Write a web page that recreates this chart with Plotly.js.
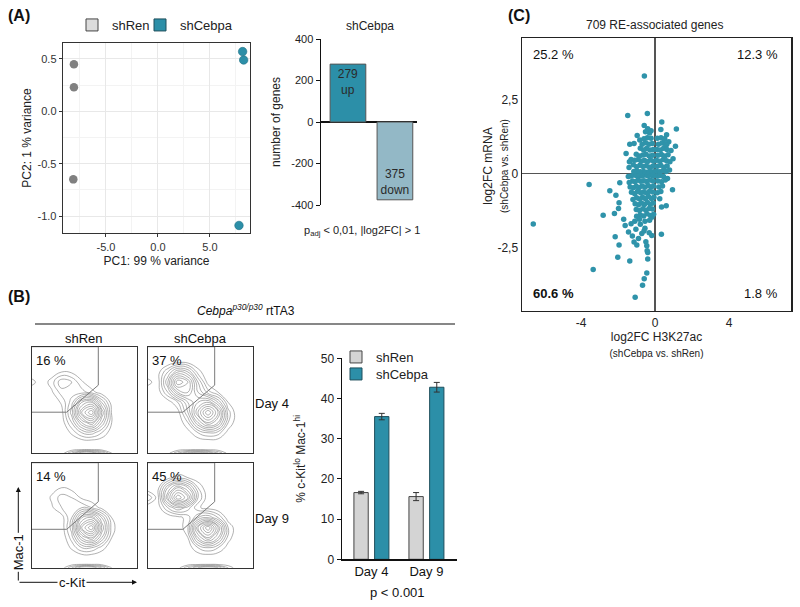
<!DOCTYPE html>
<html><head><meta charset="utf-8">
<script src="https://cdn.plot.ly/plotly-3.0.1.min.js"></script>
<style>html,body{margin:0;padding:0;background:#fff}#chart{width:800px;height:607px}</style>
</head><body><div id="chart"></div>
<script>
// ================= DATA =================
// (A) PCA
const pcaRenX = [-8.08, -8.08, -8.14];
const pcaRenY = [0.45, 0.23, -0.65];
const pcaCebX = [8.14, 8.24, 7.79];
const pcaCebY = [0.57, 0.49, -1.09];
const pcaXTicks = [-5, 0, 5];
const pcaXTickText = ['-5.0', '0.0', '5.0'];
const pcaXMinor = [-7.5, -2.5, 2.5, 7.5];
const pcaYTicks = [-1, -0.5, 0, 0.5];
const pcaYTickText = ['-1.0', '-0.5', '0.0', '0.5'];
const pcaYMinor = [-0.75, -0.25, 0.25];

// (A) differentially expressed genes
const degLabels = ['up', 'down'];
const degValues = [279, -375];
const degTicks = [-400, -200, 0, 200, 400];

// (C) RE-associated genes: log2FC H3K27ac (x) vs log2FC mRNA (y)
const reX = [
 -0.58,-1.48,-0.42,0.36,1.15,-0.59,0.31,-0.40,-0.22,1.10,0.97,-1.57,-1.37,-1.14,-0.97,-0.83,-1.30,-1.41,-1.39,0.62,0.52,0.63,0.74,0.86,
 -3.57,-2.45,-2.12,-1.91,-1.95,-1.98,-2.81,-2.20,-1.62,-1.44,-2.16,-1.23,-1.04,-0.72,-0.90,-1.14,-0.99,-1.95,-0.50,-0.32,-0.18,0.34,-0.45,-0.43,-0.40,-0.40,-2.02,-1.37,-3.35,-0.45,-0.59,-0.68,-1.08,0.35,0.60,-0.18,-6.59,-1.30,-0.80,-0.55,-1.10,0.25,-0.60,-1.70,
 0.10,0.28,0.45,0.67,0.15,0.35,0.55,0.20,0.40,0.94,0.31,0.12,
 -0.10,-0.25,-0.40,-0.55,-0.70,-0.85,-1.00,-1.15,-1.30,-1.45,
 -0.12,-0.28,-0.45,-0.60,-0.78,-0.92,-1.08,-1.22,-1.40,
 -0.08,-0.22,-0.38,-0.55,-0.70,-0.86,-1.02,-1.18,-1.35,
 -0.12,-0.30,-0.46,-0.62,-0.78,-0.95,-1.10,-1.28,
 -0.06,-0.20,-0.36,-0.52,-0.68,-0.84,-1.00,-1.20,
 -0.10,-0.26,-0.42,-0.58,-0.74,-0.90,-1.08,
 -0.15,-0.32,-0.50,-0.66,-0.84,-1.02,
 -0.08,-0.26,-0.44,-0.62,-0.80,-1.00,
 -0.30,-0.55,-0.85,
 -0.10,-0.28,-0.45,-0.62,-0.80,-0.98,-1.15,
 -0.12,-0.30,-0.48,-0.65,-0.82,-1.00,-1.18,
 -0.08,-0.25,-0.42,-0.58,-0.75,-0.92,-1.10,
 -0.14,-0.32,-0.50,-0.66,-0.84,-1.02,
 -0.10,-0.28,-0.46,-0.62,-0.80,
 -0.16,-0.34,-0.52,-0.70,
 -0.22,-0.42,-0.60,-0.30,-0.52,
 0.08,0.25,0.42,0.60,0.78,
 0.12,0.30,0.48,0.65,
 0.08,0.26,0.44,0.62,0.80,
 0.15,0.34,0.52,0.70,
 0.10,0.28,0.46,0.64,
 0.18,0.38,0.56,
 0.12,0.32,0.50
];
const reY = [
 3.31,1.97,2.04,1.75,1.51,1.63,1.50,1.52,1.45,0.93,0.50,0.68,1.00,1.02,1.29,1.14,0.48,0.21,0.40,1.32,1.18,0.99,1.08,0.78,
 -0.37,-0.58,-0.73,-0.31,-0.99,-1.18,-1.41,-1.35,-1.76,-1.98,-2.14,-2.12,-1.89,-2.03,-2.20,-2.32,-2.42,-2.42,-2.31,-2.01,-2.10,-2.06,-2.45,-2.62,-2.68,-2.90,-2.84,-2.96,-3.25,-3.37,-3.57,-3.79,-4.19,-1.13,-1.09,-1.48,-1.71,-1.70,-1.72,-1.85,-1.62,-0.85,-1.95,-1.55,
 -0.08,-0.06,-0.10,-0.17,-0.25,-0.28,-0.22,-0.45,-0.42,-0.55,-0.61,-0.65,
 -0.08,-0.05,-0.07,-0.05,-0.08,-0.06,-0.07,-0.05,-0.08,-0.10,
 -0.25,-0.22,-0.27,-0.24,-0.26,-0.22,-0.28,-0.25,-0.30,
 -0.42,-0.45,-0.40,-0.46,-0.42,-0.47,-0.43,-0.48,-0.45,
 -0.62,-0.60,-0.66,-0.62,-0.65,-0.60,-0.68,-0.63,
 -0.80,-0.84,-0.78,-0.85,-0.80,-0.86,-0.82,-0.88,
 -1.00,-1.04,-0.98,-1.05,-1.00,-1.06,-1.02,
 -1.20,-1.18,-1.24,-1.19,-1.25,-1.22,
 -1.38,-1.42,-1.36,-1.44,-1.40,-1.45,
 -1.58,-1.62,-1.55,
 0.06,0.08,0.05,0.07,0.06,0.09,0.07,
 0.25,0.22,0.27,0.24,0.28,0.23,0.30,
 0.42,0.46,0.40,0.45,0.42,0.48,0.45,
 0.62,0.60,0.66,0.63,0.60,0.66,
 0.82,0.80,0.85,0.80,0.86,
 1.02,1.00,1.05,1.00,
 1.20,1.22,1.18,1.38,1.42,
 0.08,0.06,0.10,0.07,0.12,
 0.25,0.28,0.22,0.26,
 0.45,0.42,0.48,0.44,0.40,
 0.62,0.65,0.60,0.64,
 0.82,0.80,0.86,0.82,
 1.00,1.04,1.00,
 1.20,1.22,1.16
];
const cXTicks = [-4, 0, 4];
const cXTickText = ['-4', '0', '4'];
const cYTicks = [-2.5, 0, 2.5];
const cYTickText = ['-2,5', '0', '2,5'];
const quadLabels = ['25.2 %', '12.3 %', '60.6 %', '1.8 %'];

// (B) flow cytometry density grids (c-Kit x, Mac-1 y), rows = Mac-1 from bottom
const flowX = [0, 10, 20, 30, 40, 50, 60, 70, 80, 90, 100];
const flowY = [0, 4, 10, 20, 30, 40, 50, 60, 70, 80, 90, 100];
const zRenD4 = [
 [0,0,0,0.3,3,6,6,4,1,0,0],
 [0,0,0,0,0,0,0,0,0,0,0],
 [0,0,0,0,0,0,0,0,0,0,0],
 [0,0,0,0,1.2,3,3.5,2,0.3,0,0],
 [0,0,0,0.3,3,7,9,5,1,0,0],
 [0,0,0,0.6,4.5,11,14,7,0.8,0,0],
 [0,0,0,1.2,3.5,8,9,4,0.4,0,0],
 [0,0,0.8,2.5,2.5,2.5,1.5,0.3,0,0,0],
 [1.5,0.2,1.5,3.8,3,1.2,0,0,0,0,0],
 [0,0,0.3,1,0.8,0,0,0,0,0,0],
 [0,0,0,0,0,0,0,0,0,0,0],
 [0,0,0,0,0,0,0,0,0,0,0]
];
const zCebD4 = [
 [0,0,0.5,3,5,6,5,3,0.5,0,0],
 [0,0,0,0,0,0,0,0,0,0,0],
 [0,0,0,0,0,0,0,0,0,0,0],
 [0,0,0,0,0.5,2,3,2.5,0.5,0,0],
 [0,0,0,0,2,6,9,7,2,0,0],
 [0,0,0,0.5,4,9,13,9,2.5,0,0],
 [0,0,0.3,2,5,7,8,5,1,0,0],
 [0,0.3,3,7,8,5,2.5,1,0,0,0],
 [1.5,0.3,5,11,9,4,0.5,0,0,0,0],
 [0,0.5,3,6,5,1.5,0,0,0,0,0],
 [0,0,0,0.5,0.5,0,0,0,0,0,0],
 [0,0,0,0,0,0,0,0,0,0,0]
];
const zRenD9 = [
 [0,0,0,0.3,3,6,6,4,1,0,0],
 [0,0,0,0,0,0,0,0,0,0,0],
 [0,0,0,0,0,0,0,0,0,0,0],
 [0,0,0,0,1.2,3,3,1.5,0.2,0,0],
 [0,0,0,0,2.5,7,9,5,1,0,0],
 [0,0,0,0.3,3.5,11,14,7,1.5,0,0],
 [0,0,0,0.5,3,8,9,5,1,0,0],
 [0,0,0.8,2,2.2,3,2,0.6,0,0,0],
 [0,0,1.2,2.5,2,0.8,0.2,0,0,0,0],
 [0,0,0.5,1,0.6,0,0,0,0,0,0],
 [0,0,0,0,0,0,0,0,0,0,0],
 [0,0,0,0,0,0,0,0,0,0,0]
];
const zCebD9 = [
 [0,0,0,0.5,3,5,6,5,2,0,0],
 [0,0,0,0,0,0,0,0,0,0,0],
 [0,0,0,0,0,0,0,0,0,0,0],
 [0,0,0,0,0.3,2,3,2,0.5,0,0],
 [0,0,0,0,1,6,9,6,1.5,0,0],
 [0,0,0,0,2,9,13,8,2,0,0],
 [0,0,0,0.5,1.5,4,5,3,0.3,0,0],
 [0,0.3,3,5,3.5,1.2,0.5,0,0,0,0],
 [3,0.5,7,12,9,3,0.3,0,0,0,0],
 [0,0.5,5,8,6,2,0,0,0,0,0],
 [0,0,0.5,1.5,1,0.2,0,0,0,0,0],
 [0,0,0,0,0,0,0,0,0,0,0]
];
const flowPct = ['16 %', '37 %', '14 %', '45 %'];
const gateX = [0, 66.6, 66.6, 35, 0];
const gateYD4 = [105, 105, 67, 40.3, 40.3];
const gateYD9 = [105, 105, 66, 38.4, 38.4];

// (B) bar chart
const days = ['Day 4', 'Day 9'];
const pctRen = [16.6, 15.6];
const errRen = [0.3, 1.0];
const pctCeb = [35.5, 42.8];
const errCeb = [0.8, 1.2];
const pctTicks = [0, 10, 20, 30, 40, 50];

// ================= DRAWING =================
const F = 'Liberation Sans, Arial, sans-serif';
const W = 800, H = 607;
const dx = p => p / W;
const dy = p => 1 - p / H;
const DX = (a, b) => [dx(a), dx(b)];
const DY = (t, b) => [dy(b), dy(t)];
const TEAL = '#2c8fa8', GREY = '#808080', LIGHT = '#d4d4d4';

const traces = [];
// PCA
traces.push({type:'scatter', mode:'markers', x:pcaRenX, y:pcaRenY, xaxis:'x', yaxis:'y',
  marker:{size:8.5, color:GREY}, showlegend:false, hoverinfo:'skip'});
traces.push({type:'scatter', mode:'markers', x:pcaCebX, y:pcaCebY, xaxis:'x', yaxis:'y',
  marker:{size:8.5, color:TEAL, line:{color:'#1f7185', width:0.6}}, showlegend:false, hoverinfo:'skip'});
// PCA legend keys
traces.push({type:'bar', x:[null], y:[null], xaxis:'x', yaxis:'y', name:'shRen', legend:'legend',
  marker:{color:'#dcdcdc', line:{color:'#444', width:1}}});
traces.push({type:'bar', x:[null], y:[null], xaxis:'x', yaxis:'y', name:'shCebpa', legend:'legend4',
  marker:{color:TEAL, line:{color:'#1f4f5c', width:1}}});
// DEG bars
traces.push({type:'bar', x:degLabels, y:degValues, xaxis:'x2', yaxis:'y2', width:0.76,
  marker:{color:[TEAL, '#93b8c6'], line:{color:'#555', width:1}},
  text:degValues.map((v, i) => Math.abs(v) + '<br>' + degLabels[i]),
  textposition:'inside', insidetextanchor:'end', textangle:0, constraintext:'none',
  textfont:{size:12, color:'#2a2a2a', family:F}, showlegend:false, hoverinfo:'skip'});
// RE scatter
traces.push({type:'scatter', mode:'markers', x:reX, y:reY, xaxis:'x3', yaxis:'y3',
  marker:{size:5.5, color:'#2f93aa'}, showlegend:false, hoverinfo:'skip'});
// Flow contours + gates
const flowSets = [[zRenD4, gateYD4], [zCebD4, gateYD4], [zRenD9, gateYD9], [zCebD9, gateYD9]];
flowSets.forEach((s, i) => {
  const n = i + 4;
  traces.push({type:'contour', x:flowX, y:flowY, z:s[0], xaxis:'x' + n, yaxis:'y' + n,
    contours:{start:1, end:15, size:1, coloring:'none'},
    line:{color:'#7c7c7c', width:0.6, smoothing:1.3}, showscale:false, showlegend:false, hoverinfo:'skip'});
  traces.push({type:'scatter', mode:'lines', x:gateX, y:s[1], xaxis:'x' + n, yaxis:'y' + n,
    line:{color:'#7a7a7a', width:1}, showlegend:false, hoverinfo:'skip'});
});
// Percent bars
traces.push({type:'bar', x:days, y:pctRen, xaxis:'x8', yaxis:'y8', name:'shRen', legend:'legend2',
  width:0.26, offset:-0.318, marker:{color:LIGHT, line:{color:'#444', width:1}},
  error_y:{type:'data', array:errRen, visible:true, color:'#333', thickness:1, width:3}, hoverinfo:'skip'});
traces.push({type:'bar', x:days, y:pctCeb, xaxis:'x8', yaxis:'y8', name:'shCebpa', legend:'legend3',
  width:0.26, offset:0.058, marker:{color:TEAL, line:{color:'#1f4f5c', width:1}},
  error_y:{type:'data', array:errCeb, visible:true, color:'#333', thickness:1, width:3}, hoverinfo:'skip'});

const flowAxis = (dom, anchor) => ({domain:dom, range:[0, 105], showline:true, mirror:true,
  linecolor:'#333', linewidth:1, showticklabels:false, ticks:'', showgrid:false, zeroline:false,
  anchor:anchor, fixedrange:true});

const ann = [];
const A = (t, x, y, o) => ann.push(Object.assign({text:t, xref:'paper', yref:'paper', x:dx(x), y:dy(y),
  showarrow:false, xanchor:'center', yanchor:'middle', font:{size:12, color:'#222', family:F}}, o || {}));
A('<b>(A)</b>', 6, 15, {xanchor:'left', font:{size:16, color:'#111', family:F}});
A('<b>(B)</b>', 6, 296, {xanchor:'left', font:{size:16, color:'#111', family:F}});
A('<b>(C)</b>', 506, 15, {xanchor:'left', font:{size:16, color:'#111', family:F}});
A('shCebpa', 370, 26, {font:{size:12, color:'#222', family:F}});
A('p<sub>adj</sub> &lt; 0,01, |log2FC| &gt; 1', 362, 231, {font:{size:11, color:'#222', family:F}});
A('709 RE-associated genes', 654, 25, {font:{size:12, color:'#222', family:F}});
A(quadLabels[0], 553, 54, {font:{size:13, color:'#111', family:F}});
A(quadLabels[1], 757, 54, {font:{size:13, color:'#111', family:F}});
A('<b>' + quadLabels[2] + '</b>', 553, 293, {font:{size:13, color:'#111', family:F}});
A(quadLabels[3], 761, 293, {font:{size:13, color:'#111', family:F}});
A('log2FC mRNA<br><span style="font-size:10px">(shCebpa vs. shRen)</span>', 495, 166,
  {textangle:-90, font:{size:12, color:'#222', family:F}});
A('<i>Cebpa</i><sup><i>p30/p30</i></sup> rtTA3', 246, 310, {font:{size:12, color:'#111', family:F}});
A('shRen', 84, 338, {font:{size:13, color:'#111', family:F}});
A('shCebpa', 200, 338, {font:{size:13, color:'#111', family:F}});
A(days[0], 272, 404, {font:{size:13, color:'#111', family:F}});
A(days[1], 272, 518, {font:{size:13, color:'#111', family:F}});
A('p &lt; 0.001', 397, 592, {font:{size:13, color:'#111', family:F}});
// axis arrows for flow plots
ann.push({text:'', xref:'paper', yref:'paper', x:dx(18.3), y:dy(487), ax:0, ay:95, axref:'pixel', ayref:'pixel',
  showarrow:true, arrowhead:2, arrowsize:1, arrowwidth:1, arrowcolor:'#111'});
ann.push({text:'', xref:'paper', yref:'paper', x:dx(137), y:dy(582.3), ax:-119, ay:0, axref:'pixel', ayref:'pixel',
  showarrow:true, arrowhead:2, arrowsize:1, arrowwidth:1, arrowcolor:'#111'});
A('Mac-1', 18.3, 552, {textangle:-90, bgcolor:'#fff', font:{size:13, color:'#111', family:F}});
A('c-Kit', 72, 582, {bgcolor:'#fff', font:{size:13, color:'#111', family:F}});
flowPct.forEach((t, i) => ann.push({text:t, xref:'x' + (i + 4), yref:'y' + (i + 4), x:2, y:101,
  xanchor:'left', yanchor:'top', showarrow:false, font:{size:13, color:'#111', family:F}}));

const legBase = {yanchor:'middle', xanchor:'left', font:{size:13, color:'#222'}, bgcolor:'rgba(0,0,0,0)', itemwidth:30};
const layout = {
  width:W, height:H, margin:{l:0, r:0, t:0, b:0}, paper_bgcolor:'#fff', plot_bgcolor:'rgba(0,0,0,0)',
  font:{family:F, size:12, color:'#222'}, hovermode:false, showlegend:true, barmode:'group',
  legend:Object.assign({x:dx(72), y:dy(25)}, legBase),
  legend4:Object.assign({x:dx(140), y:dy(25)}, legBase),
  legend2:Object.assign({x:dx(336), y:dy(357)}, legBase),
  legend3:Object.assign({x:dx(336), y:dy(374)}, legBase),
  xaxis:{domain:DX(63, 250), range:[-9.13, 8.85], type:'linear', tickmode:'array', tickvals:pcaXTicks, ticktext:pcaXTickText,
    showgrid:true, gridcolor:'#e8e8e8', gridwidth:1,
    minor:{tickmode:'array', tickvals:pcaXMinor, showgrid:true, gridcolor:'#f3f3f3', ticks:''},
    zeroline:false, showline:true, mirror:true, linecolor:'#333', linewidth:1.3, ticks:'outside', ticklen:3,
    tickcolor:'#333', tickfont:{size:11, color:'#333'}, title:{text:'PC1: 99 % variance', font:{size:12}, standoff:5}, anchor:'y'},
  yaxis:{domain:DY(43, 233), range:[-1.162, 0.652], type:'linear', tickmode:'array', tickvals:pcaYTicks, ticktext:pcaYTickText,
    showgrid:true, gridcolor:'#e8e8e8', gridwidth:1,
    minor:{tickmode:'array', tickvals:pcaYMinor, showgrid:true, gridcolor:'#f3f3f3', ticks:''},
    zeroline:false, showline:true, mirror:true, linecolor:'#333', linewidth:1.3, ticks:'outside', ticklen:3,
    tickcolor:'#333', tickfont:{size:11, color:'#333'}, title:{text:'PC2: 1 % variance', font:{size:12}, standoff:3}, anchor:'x'},
  xaxis2:{domain:DX(320.7, 417), range:[-0.58, 1.47], type:'category', visible:false, anchor:'y2'},
  yaxis2:{domain:DY(39, 205), range:[-400, 400], tickmode:'array', tickvals:degTicks, ticktext:degTicks.map(String),
    showline:true, linecolor:'#111', linewidth:1.2, ticks:'outside', ticklen:4, tickcolor:'#111',
    zeroline:true, zerolinecolor:'#111', zerolinewidth:1.3, showgrid:false, tickfont:{size:11, color:'#222'},
    title:{text:'number of genes', font:{size:12}, standoff:8}, anchor:'x2'},
  xaxis3:{domain:DX(522, 791), range:[-7.2, 7.35], tickmode:'array', tickvals:cXTicks, ticktext:cXTickText,
    showline:true, mirror:true, linecolor:'#222', linewidth:1.5, ticks:'', zeroline:true, zerolinecolor:'#555',
    zerolinewidth:1.5, showgrid:false, tickfont:{size:12, color:'#222'},
    title:{text:'log2FC H3K27ac<br><span style="font-size:10px">(shCebpa vs. shRen)</span>', font:{size:12}, standoff:4}, anchor:'y3'},
  yaxis3:{domain:DY(38, 310.7), range:[-4.65, 4.6], tickmode:'array', tickvals:cYTicks, ticktext:cYTickText,
    showline:true, mirror:true, linecolor:'#222', linewidth:1.5, ticks:'', zeroline:true, zerolinecolor:'#555',
    zerolinewidth:1.5, showgrid:false, tickfont:{size:12, color:'#222'}, anchor:'x3'},
  xaxis4:flowAxis(DX(31.7, 136.7), 'y4'), yaxis4:flowAxis(DY(346.7, 453), 'x4'),
  xaxis5:flowAxis(DX(147.7, 253.3), 'y5'), yaxis5:flowAxis(DY(346.7, 453), 'x5'),
  xaxis6:flowAxis(DX(31.7, 136.7), 'y6'), yaxis6:flowAxis(DY(462.7, 567.7), 'x6'),
  xaxis7:flowAxis(DX(147.7, 253.3), 'y7'), yaxis7:flowAxis(DY(462.7, 567.7), 'x7'),
  xaxis8:{domain:DX(341.7, 456.7), range:[-0.54, 1.55], type:'category', showline:true, linecolor:'#111', linewidth:1.2,
    ticks:'', tickfont:{size:13, color:'#111'}, showgrid:false, zeroline:false, anchor:'y8'},
  yaxis8:{domain:DY(358.3, 559.3), range:[0, 50], tickmode:'array', tickvals:pctTicks, ticktext:pctTicks.map(String),
    showline:true, linecolor:'#111', linewidth:1.2, ticks:'outside', ticklen:4, tickcolor:'#111', showgrid:false, zeroline:false,
    tickfont:{size:12, color:'#222'}, title:{text:'% c-Kit<sup>lo</sup> Mac-1<sup>hi</sup>', font:{size:12}, standoff:12}, anchor:'x8'},
  shapes:[{type:'line', xref:'paper', yref:'paper', x0:dx(35), x1:dx(455), y0:dy(324), y1:dy(324), line:{color:'#111', width:1.2}}],
  annotations:ann
};

Plotly.newPlot('chart', traces, layout, {displayModeBar:false, staticPlot:true});
</script>
</body></html>
